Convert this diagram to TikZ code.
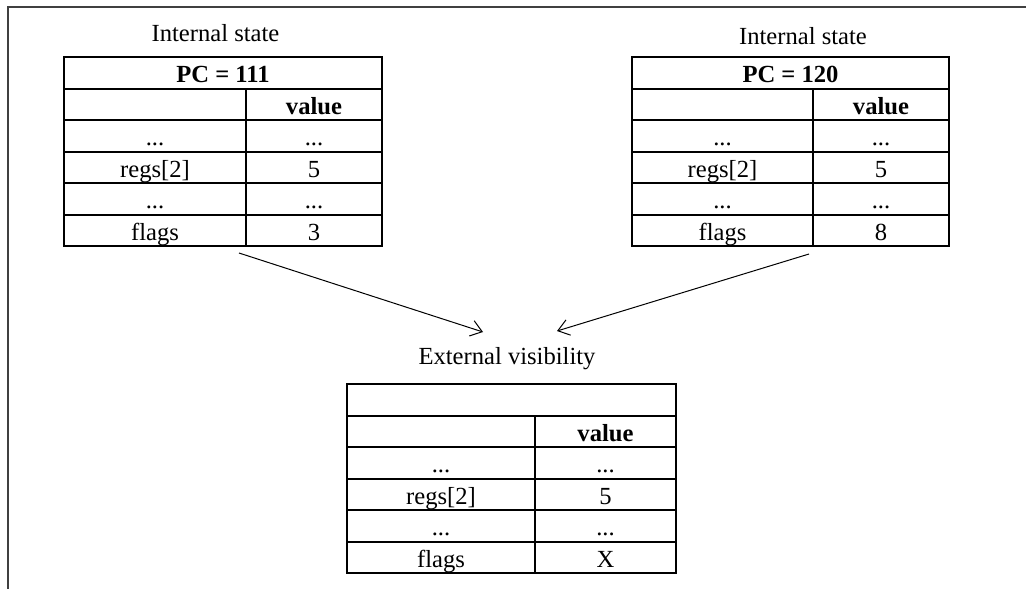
\documentclass[tikz,border=0pt]{standalone}
\usepackage{fontspec}
\setmainfont{Liberation Serif}
\usetikzlibrary{arrows.meta}

\begin{document}
\begin{tikzpicture}[x=0.5pt,y=-0.5pt,
    font=\fontsize{12.3}{14}\selectfont,
    cell/.style={draw,line width=1pt,inner sep=0pt,minimum height=15.75pt,
                 text height=9.75pt,text depth=0pt},
    keyL/.style={cell,minimum width=91pt},
    valL/.style={cell,minimum width=68pt},
    keyB/.style={cell,minimum width=94pt},
    valB/.style={cell,minimum width=70.5pt},
    title/.style={anchor=base,inner sep=0pt},
    link/.style={line width=0.5pt,-{Straight Barb[length=5.5pt,width=8pt]}}]
    \useasboundingbox (0,0) rectangle (1026,589);
    % frame
    \draw[line width=0.7pt,black!75] (1026,7) -- (8,7) -- (8,589);

    % left internal state, PC = 111
    \node[title] (tl) at (215.5,41.5) {Internal state};
    \node[cell,minimum width=159pt,font=\fontsize{12.3}{14}\selectfont\bfseries] (lh) at (223,72.75) {PC = 111};
    \node[keyL] (lk1) at (155,104.25) {};
    \node[valL,font=\fontsize{12.3}{14}\selectfont\bfseries] (lv1) at (314,104.25) {value};
    \node[keyL] (lk2) at (155,135.75) {...};
    \node[valL] (lv2) at (314,135.75) {...};
    \node[keyL] (lk3) at (155,167.25) {regs[2]};
    \node[valL] (lv3) at (314,167.25) {5};
    \node[keyL] (lk4) at (155,198.75) {...};
    \node[valL] (lv4) at (314,198.75) {...};
    \node[keyL] (lk5) at (155,230.25) {flags};
    \node[valL] (lv5) at (314,230.25) {3};

    % right internal state, PC = 120
    \node[title] (tr) at (803,44) {Internal state};
    \node[cell,minimum width=158.5pt,font=\fontsize{12.3}{14}\selectfont\bfseries] (rh) at (790.5,72.75) {PC = 120};
    \node[keyL,minimum width=90.5pt] (rk1) at (722.5,104.25) {};
    \node[valL,font=\fontsize{12.3}{14}\selectfont\bfseries] (rv1) at (881,104.25) {value};
    \node[keyL,minimum width=90.5pt] (rk2) at (722.5,135.75) {...};
    \node[valL] (rv2) at (881,135.75) {...};
    \node[keyL,minimum width=90.5pt] (rk3) at (722.5,167.25) {regs[2]};
    \node[valL] (rv3) at (881,167.25) {5};
    \node[keyL,minimum width=90.5pt] (rk4) at (722.5,198.75) {...};
    \node[valL] (rv4) at (881,198.75) {...};
    \node[keyL,minimum width=90.5pt] (rk5) at (722.5,230.25) {flags};
    \node[valL] (rv5) at (881,230.25) {8};

    % external visibility
    \node[title] (te) at (507,364) {External visibility};
    \node[cell,minimum width=164.5pt] (bh) at (511.5,399.75) {};
    \node[keyB] (bk1) at (441,431.25) {};
    \node[valB,font=\fontsize{12.3}{14}\selectfont\bfseries] (bv1) at (605.5,431.25) {value};
    \node[keyB] (bk2) at (441,462.75) {...};
    \node[valB] (bv2) at (605.5,462.75) {...};
    \node[keyB] (bk3) at (441,494.25) {regs[2]};
    \node[valB] (bv3) at (605.5,494.25) {5};
    \node[keyB] (bk4) at (441,525.75) {...};
    \node[valB] (bv4) at (605.5,525.75) {...};
    \node[keyB] (bk5) at (441,557.25) {flags};
    \node[valB] (bv5) at (605.5,557.25) {X};

    % arrows into the external view
    \coordinate (inL) at (483,332);
    \coordinate (inR) at (557,331);
    \draw[link] ([shift={(-8,6)}]lk5.south east) -- (inL);
    \draw[link] ([shift={(-5,7)}]rk5.south east) -- (inR);
\end{tikzpicture}
\end{document}
